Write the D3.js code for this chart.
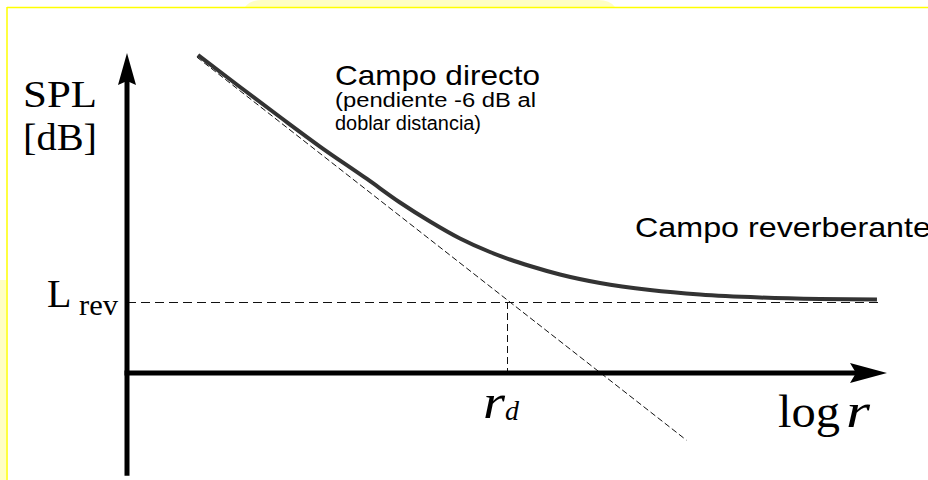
<!DOCTYPE html>
<html>
<head>
<meta charset="utf-8">
<script src="https://cdn.jsdelivr.net/npm/d3@7"></script>
<style>
  body { margin: 0; background: #fff; }
  svg { display: block; }
</style>
</head>
<body>
<svg id="svg1" width="928" height="480"></svg>
<script>
var width = 928;
var height = 480;

// curva SPL total (log r, dB)
var curveX = [0.934, 1.487, 2.013, 2.539, 3.158, 3.592, 3.987, 4.382, 4.776, 5.039, 5.303, 5.697, 6.224, 6.882, 7.539, 8.329, 9.118, 9.868];
var curveY = [9.907, 8.910, 7.975, 7.056, 6.044, 5.312, 4.720, 4.190, 3.769, 3.536, 3.333, 3.069, 2.804, 2.586, 2.445, 2.352, 2.305, 2.290];

// recta del campo directo (-6 dB al doblar distancia)
var directX = [0.92, 7.36];
var directY = [9.84, -2.09];

var Lrev = 2.21;     // nivel reverberante
var rd = 5.0;        // distancia critica
var lrevEnd = 9.88;

var xDomain = [0, 10];
var yDomain = [-3.2, 10];

var x = d3.scaleLinear().domain(xDomain).range([127, 887]);
var y = d3.scaleLinear().domain([0, 10]).range([373, 52]);

var svg = d3.select('svg');

// marco amarillo de la diapositiva
svg.append('path')
    .attr('d', 'M245,7 Q250,0 262,0 L598,0 Q610,0 615,7 Z')
    .attr('fill', '#ffffc4');
svg.append('rect')
    .attr('x', 0).attr('y', 280).attr('width', 6).attr('height', 200)
    .attr('fill', '#ffffc4');
svg.append('line')
    .attr('x1', 7).attr('y1', 7.5).attr('x2', width).attr('y2', 7.5)
    .attr('stroke', '#ffff00').attr('stroke-width', 1.5);
svg.append('line')
    .attr('x1', 7).attr('y1', 7).attr('x2', 7).attr('y2', height)
    .attr('stroke', '#ffff00').attr('stroke-width', 1.5);

var g = svg.append('g');

// lineas de trazos
g.append('line')//L_rev
    .attr('x1', x(0)).attr('y1', y(Lrev))
    .attr('x2', x(lrevEnd)).attr('y2', y(Lrev))
    .attr('stroke', '#111').attr('stroke-width', 1)
    .attr('shape-rendering', 'crispEdges')
    .attr('stroke-dasharray', '9,5');

g.append('line')//r_d
    .attr('x1', x(rd)).attr('y1', y(Lrev))
    .attr('x2', x(rd)).attr('y2', y(0))
    .attr('stroke', '#111').attr('stroke-width', 1)
    .attr('shape-rendering', 'crispEdges')
    .attr('stroke-dasharray', '7,4');

g.append('line')//campo directo
    .attr('x1', x(directX[0])).attr('y1', y(directY[0]))
    .attr('x2', x(directX[1])).attr('y2', y(directY[1]))
    .attr('stroke', '#111').attr('stroke-width', 1)
    .attr('stroke-dasharray', '6,3');

// curva total
var line = d3.line()
    .x(function(d) { return x(d[0]); })
    .y(function(d) { return y(d[1]); })
    .curve(d3.curveMonotoneX);

g.append('path')
    .datum(d3.zip(curveX, curveY))
    .attr('d', line)
    .attr('fill', 'none')
    .attr('stroke', '#333')
    .attr('stroke-width', 4);

// ejes con flechas
g.append('line')
    .attr('x1', x(0)).attr('y1', y(yDomain[0]))
    .attr('x2', x(0)).attr('y2', y(9.4))
    .attr('stroke', '#000').attr('stroke-width', 5);
g.append('line')
    .attr('x1', x(0) - 2.5).attr('y1', y(0))
    .attr('x2', x(9.6)).attr('y2', y(0))
    .attr('stroke', '#000').attr('stroke-width', 5);

var ax = x(0), ay = y(yDomain[1]);
g.append('path')
    .attr('d', 'M' + ax + ',' + (ay + 1) + ' L' + (ax + 9) + ',' + (ay + 33) +
        ' L' + ax + ',' + (ay + 29) + ' L' + (ax - 9) + ',' + (ay + 33) + 'Z')
    .attr('fill', '#000');
var bx = x(xDomain[1]), by = y(0);
g.append('path')
    .attr('d', 'M' + bx + ',' + by + ' L' + (bx - 37) + ',' + (by - 10) +
        ' L' + (bx - 31) + ',' + by + ' L' + (bx - 37) + ',' + (by + 10) + 'Z')
    .attr('fill', '#000');

// textos
var serif = '"Liberation Serif", "Times New Roman", serif';
var sans = '"Liberation Sans", Arial, sans-serif';

function label(t, px, py, size, family, len, style) {
    var el = g.append('text')
        .attr('x', px).attr('y', py)
        .attr('font-family', family)
        .attr('font-size', size)
        .attr('fill', '#000')
        .text(t);
    if (len) el.attr('textLength', len).attr('lengthAdjust', 'spacingAndGlyphs');
    if (style) el.attr('font-style', style);
    return el;
}

label('SPL', 23, 107, 38, serif, 74);
label('[dB]', 23, 150, 38, serif, 74);

label('L', 47, 307, 40, serif);
label('rev', 79, 315, 29, serif, 39);

label('r', 483, 418, 48, serif, 22, 'italic');
label('d', 505, 420, 28, serif, null, 'italic');
label('log', 778, 427, 46, serif, 62);
label('r', 846, 427, 48, serif, 24, 'italic');

label('Campo directo', 335, 85, 28, sans, 205);
label('(pendiente -6 dB al', 335, 107, 20, sans, 201);
label('doblar distancia)', 335, 130, 20, sans, 146);
label('Campo reverberante', 635, 237, 28, sans, 296);
</script>
</body>
</html>
